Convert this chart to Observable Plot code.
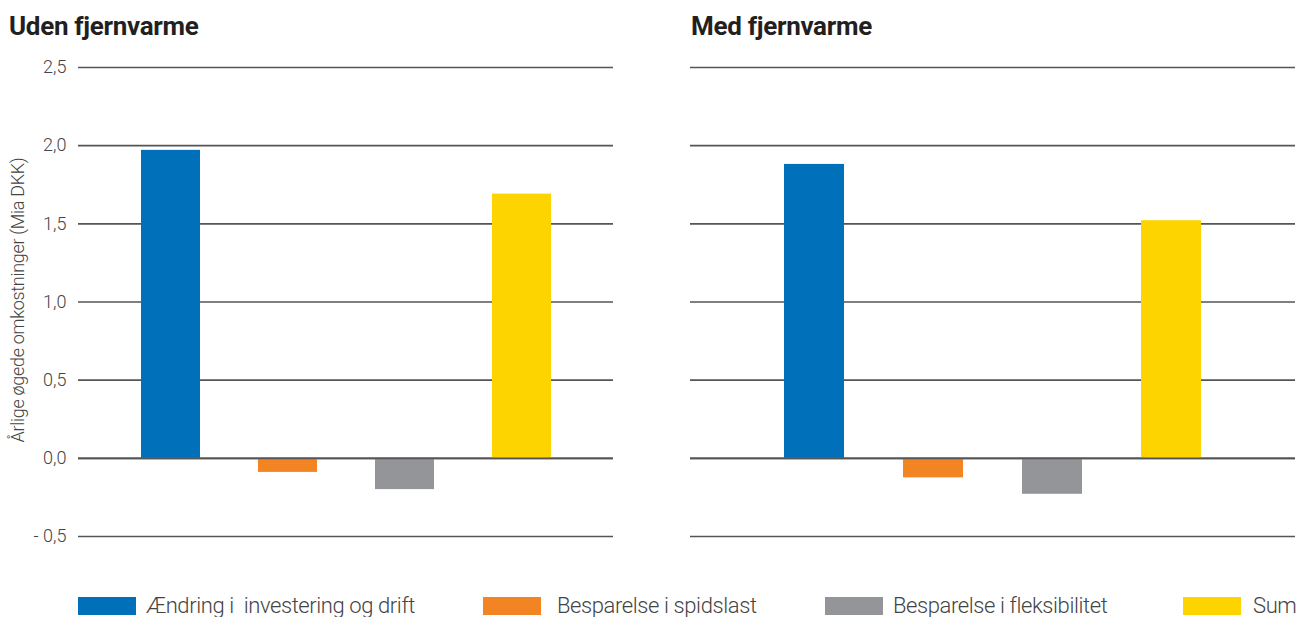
<!DOCTYPE html>
<html>
<head>
<meta charset="utf-8">
<script src="https://cdn.jsdelivr.net/npm/d3@7"></script>
<script src="https://cdn.jsdelivr.net/npm/@observablehq/plot@0.6"></script>
<style>
  html, body { margin: 0; padding: 0; background: #fff; }
  #wrap { position: relative; width: 1306px; height: 617px; overflow: hidden; font-family: Roboto, sans-serif; }
  .title { position: absolute; top: 10px; font-family: Roboto, sans-serif; font-weight: 700; font-size: 26px; line-height: 32px; color: #231f20; letter-spacing: -0.3px; }
  .panel { position: absolute; top: 40px; }
  .leg { position: absolute; top: 597px; height: 18px; }
  .legtxt { position: absolute; top: 593px; line-height: 26px; font-family: Roboto, sans-serif; font-weight: 300; font-size: 22px; color: #444; white-space: pre; letter-spacing: -0.4px; }
  .ylab { position: absolute; left: 17px; top: 300px; transform: translate(-50%, -50%) rotate(-90deg); font-family: Roboto, sans-serif; font-weight: 300; font-size: 18px; color: #444; white-space: nowrap; letter-spacing: -0.3px; }
</style>
</head>
<body>
<div id="wrap"></div>
<script>
const categories = ["Ændring i  investering og drift", "Besparelse i spidslast", "Besparelse i fleksibilitet", "Sum"];
const colors = ["#0070ba", "#f38423", "#949598", "#fdd400"];
const udenValues = [1.97, -0.09, -0.20, 1.69];
const medValues = [1.88, -0.125, -0.23, 1.52];
const yTicks = [-0.5, 0, 0.5, 1, 1.5, 2, 2.5];
const panelTitles = ["Uden fjernvarme", "Med fjernvarme"];
const yLabel = "Årlige øgede omkostninger (Mia DKK)";

const fmt = d => (d < 0 ? "- " : "") + Math.abs(d).toFixed(1).replace(".", ",");

function panel(values, opts) {
  const data = categories.map((c, i) => ({cat: c, value: values[i]}));
  return Plot.plot({
    width: opts.width,
    height: 520,
    marginTop: 27,
    marginBottom: 24,
    marginLeft: opts.marginLeft,
    marginRight: opts.marginRight,
    style: {fontFamily: "Roboto, sans-serif", color: "#444", background: "transparent"},
    x: {domain: categories, paddingInner: 0.5, paddingOuter: opts.paddingOuter, axis: null},
    y: {domain: [-0.5, 2.5], axis: null},
    color: {domain: categories, range: colors},
    marks: [
      Plot.ruleY(yTicks, {stroke: "#555", strokeWidth: 1.6}),
      Plot.barY(data, {x: "cat", y: "value", fill: "cat"}),
      Plot.ruleY([0], {stroke: "#555", strokeWidth: 1.6}),
      opts.showTicks ? Plot.text(yTicks, {y: d => d, text: fmt, frameAnchor: "left", textAnchor: "end", dx: -12, fontSize: 18, fontWeight: 300, fill: "#444"}) : null
    ]
  });
}

const wrap = document.getElementById("wrap");

const left = panel(udenValues, {width: 615, marginLeft: 78, marginRight: 2, paddingOuter: 0.53, showTicks: true});
left.classList.add("panel");
left.style.left = "0px";
wrap.appendChild(left);

const right = panel(medValues, {width: 626, marginLeft: 10, marginRight: 11, paddingOuter: 0.79, showTicks: false});
right.classList.add("panel");
right.style.left = "680px";
wrap.appendChild(right);

[[panelTitles[0], 9], [panelTitles[1], 691]].forEach(([t, x]) => {
  const d = document.createElement("div");
  d.className = "title";
  d.style.left = x + "px";
  d.textContent = t;
  wrap.appendChild(d);
});

const yl = document.createElement("div");
yl.className = "ylab";
yl.textContent = yLabel;
wrap.appendChild(yl);

const legX = [[78, 146], [483, 557], [825, 893], [1183, 1253]];
categories.forEach((c, i) => {
  const s = document.createElement("div");
  s.className = "leg";
  s.style.left = legX[i][0] + "px";
  s.style.width = "58px";
  s.style.background = colors[i];
  wrap.appendChild(s);
  const t = document.createElement("div");
  t.className = "legtxt";
  t.style.left = legX[i][1] + "px";
  t.textContent = c;
  wrap.appendChild(t);
});
</script>
</body>
</html>
